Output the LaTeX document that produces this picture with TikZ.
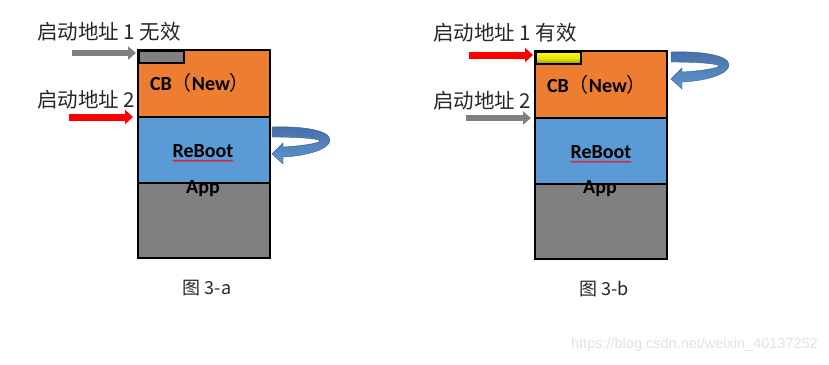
\documentclass[tikz,border=0pt]{standalone}
\usepackage{fontspec}
\setmainfont{Carlito}
\newfontfamily\cjk{Noto Sans CJK SC}
\newfontfamily\wm{Liberation Sans}
\usetikzlibrary{arrows.meta,decorations.pathmorphing,calc}
\definecolor{cborange}{RGB}{237,125,49}
\definecolor{rbblue}{RGB}{91,155,213}
\definecolor{appgray}{RGB}{128,128,128}
\definecolor{arrgray}{RGB}{128,128,128}
\definecolor{turndark}{RGB}{68,112,168}
\definecolor{turnlight}{RGB}{95,150,208}
\definecolor{wmgray}{RGB}{226,226,226}
\tikzset{
  seg/.style={draw=black, line width=2.4pt, minimum width=132pt, anchor=north west, inner sep=0pt, outer sep=0pt},
  boxtext/.style={font=\fontsize{20}{22}\selectfont\bfseries, inner sep=0pt},
  lbl/.style={font=\cjk\fontsize{20.5}{22}\selectfont, anchor=west, inner sep=0pt, text=black!85},
  captext/.style={font=\cjk\fontsize{18}{20}\selectfont, inner sep=0pt, text=black!85},
  grayarr/.style={draw=arrgray, line width=6pt, -{Triangle[length=8pt,width=13pt]}},
  redarr/.style={draw=red, line width=7pt, -{Triangle[length=8pt,width=14pt]}},
  wavy/.style={draw=red, line width=0.6pt, decorate, decoration={snake, amplitude=0.8pt, segment length=3pt}},
  turnarrow/.pic={
    \shade[top color=turndark, bottom color=turnlight, draw=turndark!80!black, line width=0.4pt]
      (0,0) .. controls (30,-1) and (58,3) .. (58,13)
      .. controls (58,22) and (35,29) .. (11,30)
      -- (11,37) -- (0,27) -- (11,16) -- (11,20)
      .. controls (30,19) and (48,16) .. (48,14)
      .. controls (48,12) and (30,10) .. (0,10) -- cycle;
  }
}
\begin{document}
\begin{tikzpicture}[x=1pt,y=-1pt]
\useasboundingbox[fill=white] (0,0) rectangle (829,364);

% ---------- Left diagram (3-a)
\node[seg, fill=appgray, minimum height=75pt] (appA) at (138,183) {};
\node[seg, fill=rbblue, minimum height=66pt] (rbA) at (138,117) {};
\node[seg, fill=cborange, minimum height=67pt] (cbA) at (138,50) {};
\node[draw=black, line width=2pt, fill=appgray, anchor=north west, minimum width=45pt, minimum height=12pt, inner sep=0pt] (tabA) at (138,50) {};
\draw[black, line width=2.4pt] (cbA.north west) rectangle (appA.south east);

\node[boxtext] (cbtA) at (200,83) {CB{\cjk\mdseries （}New{\cjk\mdseries ）}};
\node[boxtext] (rbtA) at (203,151) {ReBoot};
\draw[wavy] ($(rbtA.south west)+(0,3)$) coordinate (wA1) -- ($(rbtA.south east)+(0,3)$);
\node[boxtext] (apptA) at (203,189) {App};

\node[lbl] (l1A) at (37,32) {启动地址 1 无效};
\node[lbl] (l2A) at (37,100) {启动地址 2};
\coordinate (g1sA) at (72,53);
\coordinate (g1eA) at (136,53);
\draw[grayarr] (g1sA) -- (g1eA);
\coordinate (r2sA) at (69,117);
\coordinate (r2eA) at (133,117);
\draw[redarr] (r2sA) -- (r2eA);
\pic at (272,127) {turnarrow};

\node[captext] (capA) at (207,288) {图 3-a};

% ---------- Right diagram (3-b)
\node[seg, fill=appgray, minimum height=75pt] (appB) at (535,184) {};
\node[seg, fill=rbblue, minimum height=66pt] (rbB) at (535,118) {};
\node[seg, fill=cborange, minimum height=67pt] (cbB) at (535,51) {};
\node[draw=black, line width=2pt, top color=yellow, bottom color={rgb,255:red,150;green,150;blue,0}, middle color={rgb,255:red,230;green,230;blue,10}, anchor=north west, minimum width=45pt, minimum height=12pt, inner sep=0pt] (tabB) at (535,51) {};
\draw[black, line width=2.4pt] (cbB.north west) rectangle (appB.south east);

\node[boxtext] (cbtB) at (597,85) {CB{\cjk\mdseries （}New{\cjk\mdseries ）}};
\node[boxtext] (rbtB) at (601,152) {ReBoot};
\draw[wavy] ($(rbtB.south west)+(0,3)$) coordinate (wB1) -- ($(rbtB.south east)+(0,3)$);
\node[boxtext] (apptB) at (600,189) {App};

\node[lbl] (l1B) at (433,33) {启动地址 1 有效};
\node[lbl] (l2B) at (433,101) {启动地址 2};
\coordinate (r1sB) at (469,55);
\coordinate (r1eB) at (533,55);
\draw[redarr] (r1sB) -- (r1eB);
\coordinate (g2sB) at (466,118);
\coordinate (g2eB) at (531,118);
\draw[grayarr] (g2sB) -- (g2eB);
\pic at (671,52) {turnarrow};

\node[captext] (capB) at (604,289) {图 3-b};

\node[font=\wm\fontsize{14.5}{16}\selectfont, text=wmgray, anchor=east, inner sep=0pt] (wmark) at (818,345) {https://blog.csdn.net/weixin\_40137252};
\end{tikzpicture}
\end{document}
